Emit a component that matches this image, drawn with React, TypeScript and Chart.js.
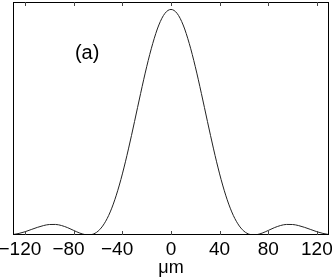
import React, { useEffect, useRef } from "react";
import { Chart, registerables } from "chart.js";

Chart.register(...registerables);

// positions in µm
const xPositions = [
  -130, -125, -120, -115, -110, -105, -100, -95, -90, -85, -80, -75, -70, -68, -65,
  -60, -55, -50, -45, -40, -35, -30, -25, -20, -15, -10, -5, 0,
  5, 10, 15, 20, 25, 30, 35, 40, 45, 50, 55, 60,
  65, 68, 70, 75, 80, 85, 90, 95, 100, 105, 110, 115, 120, 125, 130,
];
// normalised intensity
const intensity = [
  0.002, 0.007, 0.0146, 0.0242, 0.0337, 0.0417, 0.0465, 0.0468, 0.0418, 0.0324, 0.0201, 0.0084, 0.0008, 0, 0.0021,
  0.017, 0.0496, 0.1023, 0.1766, 0.2709, 0.3817, 0.5031, 0.6276, 0.7461, 0.8495, 0.9311, 0.9826, 1,
  0.9826, 0.9311, 0.8495, 0.7461, 0.6276, 0.5031, 0.3817, 0.2709, 0.1766, 0.1023, 0.0496, 0.017,
  0.0021, 0, 0.0008, 0.0084, 0.0201, 0.0324, 0.0418, 0.0468, 0.0465, 0.0417, 0.0337, 0.0242, 0.0146, 0.007, 0.002,
];
const xTickValues = [-120, -80, -40, 0, 40, 80, 120];
const xAxisTitle = "μm";
const panelLabel = "(a)";
const panelLabelAt = [-69, 0.805];

const FONT = "'Liberation Sans', Arial, Helvetica, sans-serif";

export default function App() {
  const ref = useRef<HTMLCanvasElement | null>(null);

  useEffect(() => {
    if (!ref.current) return;
    const framePlugin = {
      id: "frame",
      afterDraw(chart: any) {
        const { ctx, chartArea: a, scales } = chart;
        const x = scales.x;
        const y = scales.y;
        ctx.save();
        ctx.strokeStyle = "#000";
        ctx.lineWidth = 1;
        ctx.strokeRect(Math.round(a.left) + 0.5, Math.round(a.top) + 0.5, Math.round(a.right - a.left) - 1, Math.round(a.bottom - a.top) - 1);
        ctx.beginPath();
        for (const v of xTickValues) {
          const px = Math.round(x.getPixelForValue(v)) + 0.5;
          ctx.moveTo(px, a.bottom);
          ctx.lineTo(px, a.bottom - 4);
          ctx.moveTo(px, a.top);
          ctx.lineTo(px, a.top + 4);
        }
        ctx.strokeStyle = "#444";
        ctx.stroke();
        ctx.fillStyle = "#000";
        ctx.font = `20px ${FONT}`;
        ctx.textAlign = "center";
        ctx.textBaseline = "middle";
        ctx.fillText(panelLabel, x.getPixelForValue(panelLabelAt[0]), y.getPixelForValue(panelLabelAt[1]));
        ctx.restore();
      },
    };
    const chart = new Chart(ref.current, {
      type: "line",
      data: {
        datasets: [
          {
            data: xPositions.map((v, i) => ({ x: v, y: intensity[i] })),
            borderColor: "#222",
            borderWidth: 1,
            pointRadius: 0,
            cubicInterpolationMode: "monotone",
            fill: false,
          },
        ],
      },
      options: {
        animation: false,
        responsive: false,
        devicePixelRatio: 1,
        layout: { autoPadding: false, padding: { left: 13, right: 3, top: 2, bottom: 0 } },
        plugins: { legend: { display: false }, tooltip: { enabled: false } },
        scales: {
          x: {
            type: "linear",
            min: -130,
            max: 130,
            afterBuildTicks: (s: any) => {
              s.ticks = xTickValues.map((v) => ({ value: v }));
            },
            afterFit: (s: any) => {
              s.height = 44;
              s.paddingLeft = 0;
              s.paddingRight = 0;
            },
            grid: { display: false, drawTicks: false },
            border: { display: false },
            ticks: {
              color: "#000",
              font: { family: FONT, size: 19 },
              padding: 3,
              maxRotation: 0,
              autoSkip: false,
              callback: (v: any) => (Number(v) < 0 ? "\u2212" + Math.abs(Number(v)) + "  " : String(v)),
            },
            title: {
              display: true,
              text: xAxisTitle,
              color: "#000",
              font: { family: FONT, size: 18 },
              padding: { top: 0, bottom: 0 },
            },
          },
          y: {
            display: false,
            min: 0,
            max: 1.033,
          },
        },
      },
      plugins: [framePlugin],
    });
    return () => chart.destroy();
  }, []);

  return (
    <div style={{ position: "fixed", left: 0, top: 0, width: 332, height: 279, background: "#fff" }}>
      <canvas ref={ref} width={332} height={279} style={{ display: "block", width: 332, height: 279 }} />
    </div>
  );
}
